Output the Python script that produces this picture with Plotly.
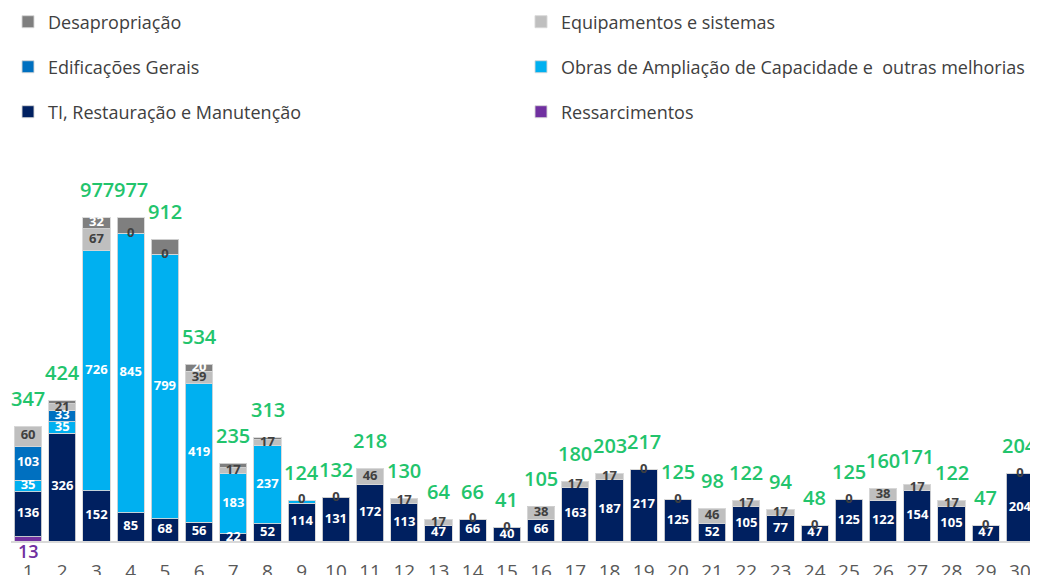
import numpy as np
import plotly.graph_objects as go

categories = list(range(1, 31))

ressarcimentos = [13] + [0] * 29
ti = [136, 326, 152, 85, 68, 56, 22, 52, 114, 131, 172, 113, 47, 66, 40,
      66, 163, 187, 217, 125, 52, 105, 77, 47, 125, 122, 154, 105, 47, 204]
obras = [35, 35, 726, 845, 799, 419, 183, 237, 10, 0, 0, 0, 0, 0, 0,
         0, 0, 0, 0, 0, 0, 0, 0, 0, 0, 0, 0, 0, 0, 0]
edificacoes = [103, 33] + [0] * 28
equipamentos = [60, 21, 67, 0, 0, 39, 17, 17, 0, 0, 46, 17, 17, 0, 0,
                38, 17, 17, 0, 0, 46, 17, 17, 0, 0, 38, 17, 17, 0, 0]
desapropriacao = [0, 9, 32, 47, 45, 20, 13, 7, 0, 1, 0, 0, 0, 0, 1,
                  1, 0, 0, 0, 0, 0, 0, 0, 1, 0, 0, 0, 0, 0, 0]
totals = [347, 424, 977, 977, 912, 534, 235, 313, 124, 132, 218, 130, 64, 66, 41,
          105, 180, 203, 217, 125, 98, 122, 94, 48, 125, 160, 171, 122, 47, 204]

# which segment values carry a visible label in the reference
show_obras = [1, 1, 1, 1, 1, 1, 1, 1] + [0] * 22
show_edif = [1, 1] + [0] * 28
show_desap = [0, 0, 1, 0, 0, 1] + [0] * 24
show_ress = [1] + [0] * 29

series = [
    ("Ressarcimentos", ressarcimentos, "#7030A0", 6),
    ("TI, Restauração e Manutenção", ti, "#002060", 5),
    ("Obras de Ampliação de Capacidade e  outras melhorias", obras, "#00B0F0", 4),
    ("Edificações Gerais", edificacoes, "#0070C0", 3),
    ("Equipamentos e sistemas", equipamentos, "#BFBFBF", 2),
    ("Desapropriação", desapropriacao, "#7F7F7F", 1),
]
legend_of = {1: "legend", 2: "legend", 3: "legend2", 4: "legend2", 5: "legend3", 6: "legend3"}

FONT = "Open Sans"
fig = go.Figure()
for name, vals, color, rank in series:
    fig.add_trace(go.Bar(
        x=categories, y=vals, name=name, marker_color=color,
        marker_line=dict(color="rgba(215,215,215,0.9)", width=1),
        legendrank=rank, legend=legend_of[rank], hoverinfo="skip",
    ))

# segment labels
arr = {n: np.array(v, dtype=float) for n, v, c, r in series}
base = np.zeros(30)
bases = {}
for n, v, c, r in series:
    bases[n] = base.copy()
    base = base + arr[n]

def add_labels(name, show, color):
    vals = arr[name]
    ys = bases[name] + vals / 2
    xs = [categories[i] for i in range(30) if show[i]]
    yv = [ys[i] for i in range(30) if show[i]]
    tv = [str(int(vals[i])) for i in range(30) if show[i]]
    fig.add_trace(go.Scatter(
        x=xs, y=yv, text=tv, mode="text", showlegend=False, hoverinfo="skip",
        textfont=dict(family=FONT, size=13, color=color, weight="bold"),
        textposition="middle center",
    ))

add_labels("TI, Restauração e Manutenção", [1] * 30, "white")
add_labels("Obras de Ampliação de Capacidade e  outras melhorias", show_obras, "white")
add_labels("Edificações Gerais", show_edif, "white")
add_labels("Equipamentos e sistemas", [1] * 30, "#404040")
add_labels("Desapropriação", show_desap, "white")

# totals
for i, t in enumerate(totals):
    fig.add_annotation(x=categories[i], y=t, text=str(t), showarrow=False,
                       yshift=28, font=dict(family=FONT, size=20, color="#22C46C", weight=600))
# ressarcimentos label below axis
for i, v in enumerate(ressarcimentos):
    if show_ress[i]:
        fig.add_annotation(x=categories[i], y=0, text=str(v), showarrow=False,
                           yshift=-10, font=dict(family=FONT, size=18, color="#7030A0", weight=600))

leg_common = dict(orientation="h", xanchor="left", yanchor="middle", traceorder="normal",
                  xref="container", yref="container",
                  entrywidth=468, entrywidthmode="pixels",
                  font=dict(family=FONT, size=18, color="#404040"),
                  bgcolor="rgba(0,0,0,0)", itemclick=False, itemdoubleclick=False)

# the page body adds an 8px offset, so the figure is 8px smaller than the window
fig.update_layout(
    width=1030, height=567,
    margin=dict(l=3, r=1, t=162, b=34),
    barmode="stack", bargap=0.2,
    plot_bgcolor="white", paper_bgcolor="white",
    showlegend=True,
    legend=dict(x=-0.006, y=0.9753, **leg_common),
    legend2=dict(x=-0.006, y=0.8959, **leg_common),
    legend3=dict(x=-0.006, y=0.8166, **leg_common),
    xaxis=dict(showline=True, linecolor="#D9D9D9", linewidth=2,
               tickmode="array", tickvals=categories, ticktext=[str(c) for c in categories],
               ticks="outside", ticklen=12, tickcolor="rgba(0,0,0,0)",
               tickfont=dict(family=FONT, size=19, color="#595959"),
               showgrid=False, zeroline=False, range=[0.5, 30.5], automargin=False),
    yaxis=dict(visible=False, range=[0, 1122], showgrid=False),
)

fig.write_html("out.html")
